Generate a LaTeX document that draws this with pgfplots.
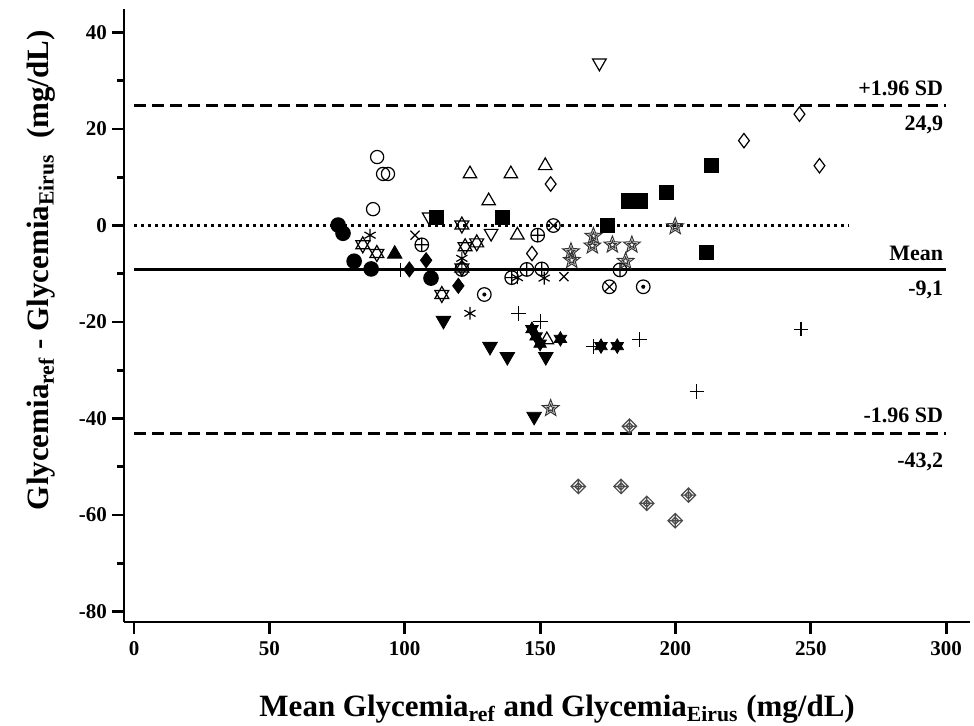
\documentclass[border=0pt]{standalone}
\usepackage{pgfplots}
\pgfplotsset{compat=1.18}
\usetikzlibrary{plotmarks}
\usepackage{fontspec}
\setmainfont{Liberation Serif}

% open five-point star with a smaller star inside
\pgfdeclareplotmark{ostar}{%
 \pgfpathmoveto{\pgfpointpolar{90}{\pgfplotmarksize}}%
 \pgfpathlineto{\pgfpointpolar{126}{0.42\pgfplotmarksize}}%
 \pgfpathlineto{\pgfpointpolar{162}{\pgfplotmarksize}}%
 \pgfpathlineto{\pgfpointpolar{198}{0.42\pgfplotmarksize}}%
 \pgfpathlineto{\pgfpointpolar{234}{\pgfplotmarksize}}%
 \pgfpathlineto{\pgfpointpolar{270}{0.42\pgfplotmarksize}}%
 \pgfpathlineto{\pgfpointpolar{306}{\pgfplotmarksize}}%
 \pgfpathlineto{\pgfpointpolar{342}{0.42\pgfplotmarksize}}%
 \pgfpathlineto{\pgfpointpolar{18}{\pgfplotmarksize}}%
 \pgfpathlineto{\pgfpointpolar{54}{0.42\pgfplotmarksize}}%
 \pgfpathclose
 \pgfpathmoveto{\pgfpointpolar{90}{0.45\pgfplotmarksize}}%
 \pgfpathlineto{\pgfpointpolar{126}{0.19\pgfplotmarksize}}%
 \pgfpathlineto{\pgfpointpolar{162}{0.45\pgfplotmarksize}}%
 \pgfpathlineto{\pgfpointpolar{198}{0.19\pgfplotmarksize}}%
 \pgfpathlineto{\pgfpointpolar{234}{0.45\pgfplotmarksize}}%
 \pgfpathlineto{\pgfpointpolar{270}{0.19\pgfplotmarksize}}%
 \pgfpathlineto{\pgfpointpolar{306}{0.45\pgfplotmarksize}}%
 \pgfpathlineto{\pgfpointpolar{342}{0.19\pgfplotmarksize}}%
 \pgfpathlineto{\pgfpointpolar{18}{0.45\pgfplotmarksize}}%
 \pgfpathlineto{\pgfpointpolar{54}{0.19\pgfplotmarksize}}%
 \pgfpathclose
 \pgfusepathqstroke}
% open hexagram (two triangles)
\pgfdeclareplotmark{hexa}{%
 \pgfpathmoveto{\pgfpointpolar{90}{\pgfplotmarksize}}%
 \pgfpathlineto{\pgfpointpolar{210}{\pgfplotmarksize}}%
 \pgfpathlineto{\pgfpointpolar{330}{\pgfplotmarksize}}%
 \pgfpathclose
 \pgfpathmoveto{\pgfpointpolar{270}{\pgfplotmarksize}}%
 \pgfpathlineto{\pgfpointpolar{30}{\pgfplotmarksize}}%
 \pgfpathlineto{\pgfpointpolar{150}{\pgfplotmarksize}}%
 \pgfpathclose
 \pgfusepathqstroke}
% filled six-point star
\pgfdeclareplotmark{hexafill}{%
 \pgfpathmoveto{\pgfpointpolar{90}{\pgfplotmarksize}}%
 \pgfpathlineto{\pgfpointpolar{210}{\pgfplotmarksize}}%
 \pgfpathlineto{\pgfpointpolar{330}{\pgfplotmarksize}}%
 \pgfpathclose
 \pgfpathmoveto{\pgfpointpolar{270}{\pgfplotmarksize}}%
 \pgfpathlineto{\pgfpointpolar{30}{\pgfplotmarksize}}%
 \pgfpathlineto{\pgfpointpolar{150}{\pgfplotmarksize}}%
 \pgfpathclose
 \pgfsetnonzerorule
 \pgfusepathqfillstroke}
% circle with a dot
\pgfdeclareplotmark{odot}{%
 \pgfpathcircle{\pgfpointorigin}{\pgfplotmarksize}%
 \pgfusepathqstroke
 \pgfpathcircle{\pgfpointorigin}{0.3\pgfplotmarksize}%
 \pgfusepathqfill}
% patterned diamond
\pgfdeclareplotmark{pdiamond}{%
 \pgfpathmoveto{\pgfqpoint{0pt}{\pgfplotmarksize}}%
 \pgfpathlineto{\pgfqpoint{\pgfplotmarksize}{0pt}}%
 \pgfpathlineto{\pgfqpoint{0pt}{-\pgfplotmarksize}}%
 \pgfpathlineto{\pgfqpoint{-\pgfplotmarksize}{0pt}}%
 \pgfpathclose
 \pgfpathmoveto{\pgfpoint{0pt}{0.5\pgfplotmarksize}}%
 \pgfpathlineto{\pgfpoint{0.5\pgfplotmarksize}{0pt}}%
 \pgfpathlineto{\pgfpoint{0pt}{-0.5\pgfplotmarksize}}%
 \pgfpathlineto{\pgfpoint{-0.5\pgfplotmarksize}{0pt}}%
 \pgfpathclose
 \pgfpathmoveto{\pgfqpoint{0pt}{\pgfplotmarksize}}%
 \pgfpathlineto{\pgfqpoint{0pt}{-\pgfplotmarksize}}%
 \pgfpathmoveto{\pgfqpoint{\pgfplotmarksize}{0pt}}%
 \pgfpathlineto{\pgfqpoint{-\pgfplotmarksize}{0pt}}%
 \pgfusepathqstroke}

\pgfplotsset{pts/.style={only marks, black, mark size=3.4pt, mark options={line width=0.6pt, solid}}}

\begin{document}
\begin{tikzpicture}
\useasboundingbox (0,0) rectangle (487pt,363pt);
\begin{axis}[
  at={(62pt,52pt)}, anchor=south west,
  scale only axis, width=423pt, height=306.5pt,
  xmin=-3.7, xmax=308.8, ymin=-82.2, ymax=44.9,
  axis lines=left, axis line style={-, line width=1.4pt},
  tick align=outside,
  xtick={0,50,...,300}, ytick={-80,-60,...,40}, minor ytick={-70,-50,...,30},
  major tick length=6pt, minor tick length=3.5pt,
  every tick/.style={line width=1.4pt, black},
  ticklabel style={font=\bfseries\fontsize{10.5}{12}\selectfont},
  yticklabel style={xshift=1pt},
  /pgf/number format/assume math mode=true,
  xlabel={Mean Glycemia\textsubscript{ref} and Glycemia\textsubscript{Eirus} (mg/dL)},
  ylabel={Glycemia\textsubscript{ref} - Glycemia\textsubscript{Eirus}\ \ (mg/dL)},
  every axis x label/.style={at={(axis description cs:0.512,-0.142)}, anchor=center, font=\bfseries\fontsize{15.5}{18}\selectfont},
  every axis y label/.style={at={(axis description cs:-0.098,0.574)}, rotate=90, anchor=center, font=\bfseries\fontsize{15.5}{18}\selectfont},
  clip=false,
]
% reference lines
\addplot[black, line width=1.5pt, dash pattern=on 6pt off 3pt] coordinates {(0,24.9) (300,24.9)};
\addplot[black, line width=1.5pt, dash pattern=on 6pt off 3pt] coordinates {(0,-43.2) (300,-43.2)};
\addplot[black, line width=1.5pt] coordinates {(0,-9.1) (300,-9.1)};
\addplot[black, line width=1.5pt, dash pattern=on 1.5pt off 2pt] coordinates {(0,0) (264,0)};

% subjects
\addplot[pts, mark=*, mark size=3.6pt] coordinates {(75.4,0.1) (77.2,-1.6) (81.3,-7.4) (87.6,-9.0) (109.7,-10.9)};
\addplot[pts, mark=o, mark size=3.3pt] coordinates {(89.8,14.2) (92.0,10.7) (93.8,10.7) (88.3,3.4)};
\addplot[pts, mark=square*, mark size=3.5pt] coordinates {(111.8,1.6) (136.0,1.6) (175.0,0) (182.6,5.1) (186.9,5.1) (196.8,6.9) (211.6,-5.6) (213.4,12.4)};
\addplot[pts, mark=triangle, mark size=3.9pt] coordinates {(124.1,10.7) (139.2,10.7) (151.9,12.4) (131.0,5.1) (141.6,-2.0) (152.5,-23.7)};
\addplot[pts, mark=triangle, mark size=3.9pt, mark options={rotate=180, line width=0.6pt}] coordinates {(109.0,1.8) (131.9,-1.6) (171.9,33.7)};
\addplot[pts, mark=triangle*, mark size=4.2pt, mark options={rotate=180, fill=black}] coordinates {(114.3,-19.7) (131.5,-25.1) (137.9,-27.2) (152.1,-27.2) (147.8,-39.6)};
\addplot[pts, mark=triangle*, mark size=4.2pt, mark options={fill=black}] coordinates {(96.3,-5.9)};
\addplot[pts, mark=diamond, mark size=3.6pt] coordinates {(153.9,8.6) (147.0,-5.8) (225.3,17.6) (245.8,23.1) (253.2,12.4)};
\addplot[pts, mark=diamond*, mark size=3.8pt, mark options={fill=black}] coordinates {(107.9,-7.2) (101.7,-9.1) (119.8,-12.5)};
\addplot[pts, mark=+, mark size=3.6pt] coordinates {(98.3,-9.2) (142.0,-18.2) (150.2,-19.9) (169.7,-25.1) (186.7,-23.6) (207.9,-34.4) (246.4,-21.5)};
\addplot[pts, mark=x, mark size=3.2pt] coordinates {(103.8,-2.0) (158.8,-10.6)};
\addplot[pts, mark=asterisk, mark size=3.2pt] coordinates {(87.2,-2.0) (121.1,-6.8) (124.1,-18.2) (141.6,-10.8) (151.5,-10.9)};
\addplot[pts, mark=oplus, mark size=3.4pt] coordinates {(106.3,-4.0) (121.1,-9.1) (139.5,-10.8) (145.1,-9.1) (149.1,-2.0) (150.6,-9.0) (179.5,-9.2)};
\addplot[pts, mark=otimes, mark size=3.4pt] coordinates {(175.6,-12.7) (154.9,0)};
\addplot[pts, mark=odot, mark size=3.4pt] coordinates {(129.4,-14.3) (188.1,-12.7)};
\addplot[pts, mark=hexa, mark size=4pt] coordinates {(84.5,-4.0) (89.7,-5.8) (121.1,0.1) (126.6,-3.6) (122.3,-4.4) (113.7,-14.3) (121.1,-8.8)};
\addplot[pts, mark=ostar, mark size=4.4pt, mark options={draw=black!80, line width=0.5pt}] coordinates {(199.9,-0.2) (169.7,-2.2) (169.3,-4.2) (176.7,-4.0) (183.9,-4.0) (181.6,-7.4) (161.4,-5.4) (161.7,-7.2) (153.9,-37.9)};
\addplot[pts, mark=hexafill, mark size=3.6pt, mark options={fill=black}] coordinates {(147,-21.5) (148.5,-23) (150,-24.5) (157.5,-23.5) (172.5,-25) (178.5,-25)};
\addplot[pts, mark=pdiamond, mark size=3.6pt, mark options={draw=black!70, line width=0.6pt}] coordinates {(183.0,-41.6) (164.1,-54.1) (179.9,-54.1) (189.4,-57.6) (199.9,-61.2) (204.8,-55.9)};

% labels of the lines
\begin{scope}[every node/.style={anchor=east, inner sep=0pt, font=\bfseries\fontsize{11}{13}\selectfont}]
\node at (axis cs:299,28.5) {+1.96 SD};
\node at (axis cs:299,20.8) {24,9};
\node at (axis cs:299,-5.7) {Mean};
\node at (axis cs:299,-13.4) {-9,1};
\node at (axis cs:299,-39.3) {-1.96 SD};
\node at (axis cs:299,-49.0) {-43,2};
\end{scope}
\end{axis}
\end{tikzpicture}
\end{document}
